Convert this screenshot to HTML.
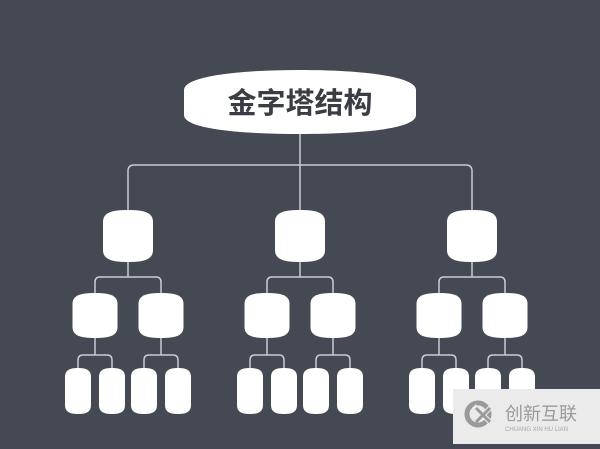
<!DOCTYPE html>
<html><head><meta charset="utf-8"><style>
html,body{margin:0;padding:0;background:#454953;}
</style></head><body>
<svg width="600" height="444" viewBox="0 0 600 444" xmlns="http://www.w3.org/2000/svg">
<defs>
<path id="n2" d="M-25 12 C-25 2 -15 0 0 0 C15 0 25 2 25 12 V40 C25 50 15 52 0 52 C-15 52 -25 50 -25 40 Z" fill="#fff"/>
<path id="n3" d="M-22.5 11 C-22.5 2 -14 0 0 0 C14 0 22.5 2 22.5 11 V34 C22.5 43 14 45 0 45 C-14 45 -22.5 43 -22.5 34 Z" fill="#fff"/>
<path id="n4" d="M-13 9 C-13 2 -8 0 0 0 C8 0 13 2 13 9 V37 C13 44 8 46 0 46 C-8 46 -13 44 -13 37 Z" fill="#fff"/>
</defs>
<rect width="600" height="444" fill="#454953"/>
<g fill="none" stroke="#c9ccd2" stroke-width="1.5">
<path d="M300 133 V212"/>
<path d="M128 212 V171 Q128 165 134 165 H466 Q472 165 472 171 V212"/>
<path d="M128 262 V277 M95 293 V282 Q95 277 100 277 H156 Q161 277 161 282 V293"/>
<path d="M300 262 V277 M267 293 V282 Q267 277 272 277 H328 Q333 277 333 282 V293"/>
<path d="M472 262 V277 M439 293 V282 Q439 277 444 277 H500 Q505 277 505 282 V293"/>
<path d="M95 337 V355 M78 368 V360 Q78 355 83 355 H107 Q112 355 112 360 V368"/>
<path d="M161 337 V355 M144 368 V360 Q144 355 149 355 H173 Q178 355 178 360 V368"/>
<path d="M267 337 V355 M250 368 V360 Q250 355 255 355 H279 Q284 355 284 360 V368"/>
<path d="M333 337 V355 M316 368 V360 Q316 355 321 355 H345 Q350 355 350 360 V368"/>
<path d="M439 337 V355 M422 368 V360 Q422 355 427 355 H451 Q456 355 456 360 V368"/>
<path d="M505 337 V355 M488 368 V360 Q488 355 493 355 H517 Q522 355 522 360 V368"/>
</g>
<use href="#n2" x="128" y="210"/><use href="#n2" x="300" y="210"/><use href="#n2" x="472" y="210"/>
<use href="#n3" x="95" y="293"/><use href="#n3" x="161" y="293"/>
<use href="#n3" x="267" y="293"/><use href="#n3" x="333" y="293"/>
<use href="#n3" x="439" y="293"/><use href="#n3" x="505" y="293"/>
<use href="#n4" x="78" y="368"/><use href="#n4" x="112" y="368"/><use href="#n4" x="144" y="368"/><use href="#n4" x="178" y="368"/>
<use href="#n4" x="250" y="368"/><use href="#n4" x="284" y="368"/><use href="#n4" x="316" y="368"/><use href="#n4" x="350" y="368"/>
<use href="#n4" x="422" y="368"/><use href="#n4" x="456" y="368"/><use href="#n4" x="488" y="368"/><use href="#n4" x="522" y="368"/>
<path d="M184 90 C184 76 240 70 300 70 C360 70 416 76 416 90 V115 C416 129 360 134 300 134 C240 134 184 129 184 115 Z" fill="#fff"/>
<text x="300" y="113" text-anchor="middle" font-family="'Liberation Sans','Noto Sans CJK SC',sans-serif" font-size="29" font-weight="bold" fill="#3a3d44">金字塔结构</text>
<rect x="453" y="389" width="147" height="55" fill="#ebebeb"/>
<circle cx="478" cy="414" r="11" fill="none" stroke="#9a9a9a" stroke-width="5"/>
<path d="M474 406 L492 424 M492 406 L480 418" stroke="#ebebeb" stroke-width="5"/>
<path d="M476 408 L490 422 M490 408 L476 422" stroke="#9a9a9a" stroke-width="3"/>
<text x="505" y="420" font-family="'Liberation Sans','Noto Sans CJK SC',sans-serif" font-size="18" fill="#9a9a9a">创新互联</text>
<text x="505" y="431" font-family="'Liberation Sans',sans-serif" font-size="6" fill="#a5a5a5">CHUANG XIN HU LIAN</text>
</svg>
</body></html>
